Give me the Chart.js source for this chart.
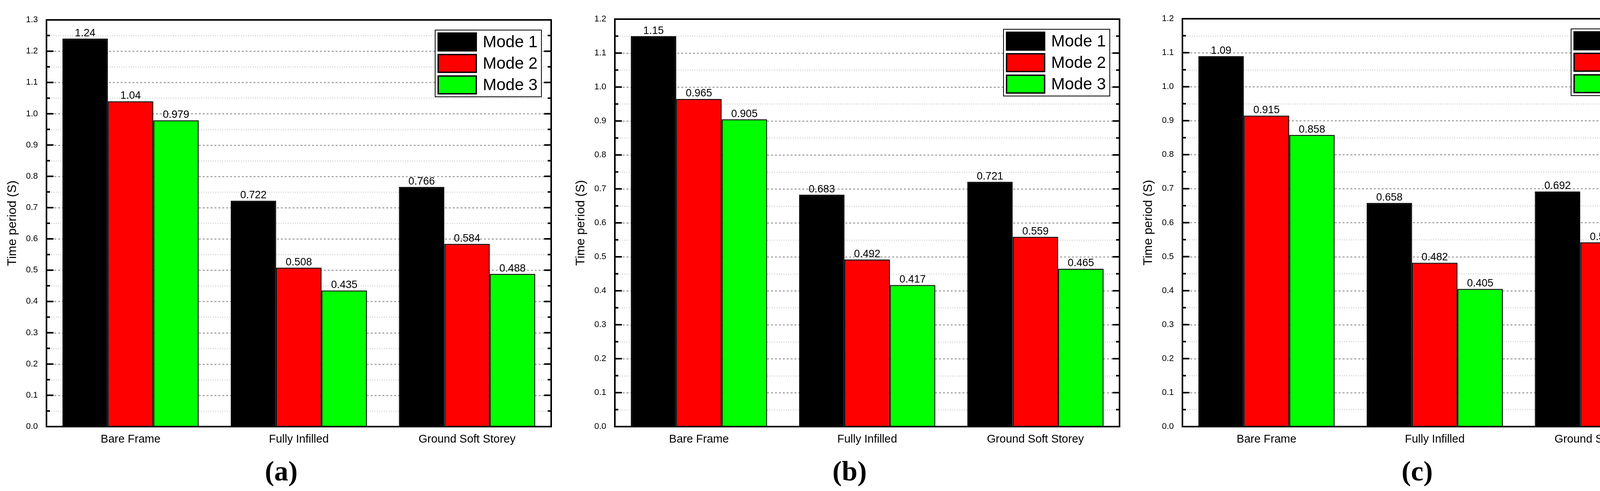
<!DOCTYPE html>
<html>
<head>
<meta charset="utf-8">
<script src="https://cdn.jsdelivr.net/npm/chart.js@4.4.1/dist/chart.umd.min.js"></script>
<style>
  html, body { margin: 0; padding: 0; background: #fff; }
  body { width: 4343px; height: 1258px; position: relative; overflow: hidden; }
  canvas { position: absolute; top: 0; }
</style>
</head>
<body>
<canvas id="chartA"></canvas>
<canvas id="chartB"></canvas>
<canvas id="chartC"></canvas>
<script>
const categories = ['Bare Frame', 'Fully Infilled', 'Ground Soft Storey'];
const modeNames = ['Mode 1', 'Mode 2', 'Mode 3'];
const modeColors = ['#000000', '#ff0000', '#00ff00'];

// panel (a)
const mode1A = [1.24, 0.722, 0.766];
const mode2A = [1.04, 0.508, 0.584];
const mode3A = [0.979, 0.435, 0.488];
// panel (b)
const mode1B = [1.15, 0.683, 0.721];
const mode2B = [0.965, 0.492, 0.559];
const mode3B = [0.905, 0.417, 0.465];
// panel (c)
const mode1C = [1.09, 0.658, 0.692];
const mode2C = [0.915, 0.482, 0.542];
const mode3C = [0.858, 0.405, 0.45];

const yMaxes = [1.3, 1.2, 1.2];
const panelTags = ['(a)', '(b)', '(c)'];
const yTitle = 'Time period (S)';

const FONT = '"Liberation Sans", Arial, sans-serif';
const PANEL_W = 1435;
const PANEL_H = 1258;

const framePlugin = {
  id: 'frame',
  beforeDatasetsDraw(chart) {
    const { ctx, chartArea: a, scales: { y } } = chart;
    ctx.save();
    for (let i = 1; i * 0.05 < y.max - 1e-9; i++) {
      const py = Math.round(y.getPixelForValue(i * 0.05)) + 0.5;
      const major = i % 2 === 0;
      ctx.strokeStyle = major ? '#a8a8a8' : '#d0d0d0';
      ctx.lineWidth = 3;
      ctx.setLineDash(major ? [5, 5] : [2, 4]);
      ctx.beginPath();
      ctx.moveTo(a.left, py);
      ctx.lineTo(a.right, py);
      ctx.stroke();
    }
    ctx.restore();
  },
  afterDatasetsDraw(chart, args, opts) {
    const { ctx, chartArea: a, scales: { y } } = chart;
    ctx.save();
    // inward ticks on both sides
    ctx.strokeStyle = '#000';
    ctx.lineWidth = 4;
    for (let i = 1; i * 0.05 < y.max - 1e-9; i++) {
      const py = y.getPixelForValue(i * 0.05);
      const len = i % 2 === 0 ? 18 : 9;
      ctx.beginPath();
      ctx.moveTo(a.left, py); ctx.lineTo(a.left + len, py);
      ctx.moveTo(a.right, py); ctx.lineTo(a.right - len, py);
      ctx.stroke();
    }
    ctx.strokeRect(a.left, a.top, a.right - a.left, a.bottom - a.top);

    // value labels
    ctx.fillStyle = '#000';
    ctx.font = '27px ' + FONT;
    ctx.textAlign = 'center';
    ctx.textBaseline = 'alphabetic';
    chart.data.datasets.forEach((ds, k) => {
      chart.getDatasetMeta(k).data.forEach((bar, j) => {
        ctx.fillText(String(ds.data[j]), bar.x, bar.y - 6);
      });
    });

    // legend box
    const bw = 272, bh = 171;
    const bx = a.right - 25 - bw, by = a.top + 26;
    ctx.fillStyle = '#fff';
    ctx.fillRect(bx, by, bw, bh);
    ctx.lineWidth = 2;
    ctx.strokeRect(bx, by, bw, bh);
    ctx.font = '42px ' + FONT;
    ctx.textAlign = 'left';
    ctx.textBaseline = 'middle';
    chart.data.datasets.forEach((ds, k) => {
      const ry = by + 6 + k * 55;
      ctx.fillStyle = ds.backgroundColor;
      ctx.fillRect(bx + 6, ry, 101, 49);
      ctx.lineWidth = 3.5;
      ctx.strokeStyle = '#000';
      ctx.strokeRect(bx + 7.75, ry + 1.75, 97.5, 45.5);
      ctx.fillStyle = '#000';
      ctx.fillText(ds.label, bx + 122, ry + 26);
    });

    // panel caption
    ctx.font = 'bold 72px "Liberation Serif", "Times New Roman", serif';
    ctx.textAlign = 'center';
    ctx.textBaseline = 'middle';
    ctx.fillText(opts.tag, a.left + 601, 1212);
    ctx.restore();
  }
};

function makePanel(id, left, series, yMax, tag, top) {
  const canvas = document.getElementById(id);
  canvas.width = PANEL_W;
  canvas.height = PANEL_H;
  canvas.style.left = left + 'px';
  return new Chart(canvas, {
    type: 'bar',
    data: {
      labels: categories,
      datasets: series.map((vals, k) => ({
        label: modeNames[k],
        data: vals,
        backgroundColor: modeColors[k],
        borderColor: '#000',
        borderWidth: 2.5,
        categoryPercentage: 0.81,
        barPercentage: 1.0
      }))
    },
    options: {
      responsive: false,
      animation: false,
      devicePixelRatio: 1,
      layout: { padding: { top: top, right: PANEL_W - 1411, left: 0, bottom: 0 } },
      plugins: {
        legend: { display: false },
        tooltip: { enabled: false },
        frame: { tag: tag }
      },
      scales: {
        x: {
          grid: { display: false, drawTicks: false },
          border: { display: false },
          ticks: { color: '#000', font: { family: FONT, size: 29 }, padding: 16, maxRotation: 0, autoSkip: false },
          afterFit(s) { s.height = PANEL_H - 1093; }
        },
        y: {
          min: 0,
          max: yMax,
          grid: { display: false, drawTicks: false },
          border: { display: false },
          ticks: {
            stepSize: 0.1,
            color: '#000',
            font: { family: FONT, size: 22 },
            padding: 22,
            callback: v => Number(v).toFixed(1)
          },
          title: {
            display: true,
            text: yTitle,
            color: '#000',
            font: { family: FONT, size: 32 },
            padding: { top: 13, bottom: 0 }
          },
          afterFit(s) { s.width = 119; }
        }
      }
    },
    plugins: [framePlugin]
  });
}

makePanel('chartA', 0, [mode1A, mode2A, mode3A], yMaxes[0], panelTags[0], 51);
makePanel('chartB', 1455, [mode1B, mode2B, mode3B], yMaxes[1], panelTags[1], 49);
makePanel('chartC', 2908, [mode1C, mode2C, mode3C], yMaxes[2], panelTags[2], 48);
</script>
</body>
</html>
